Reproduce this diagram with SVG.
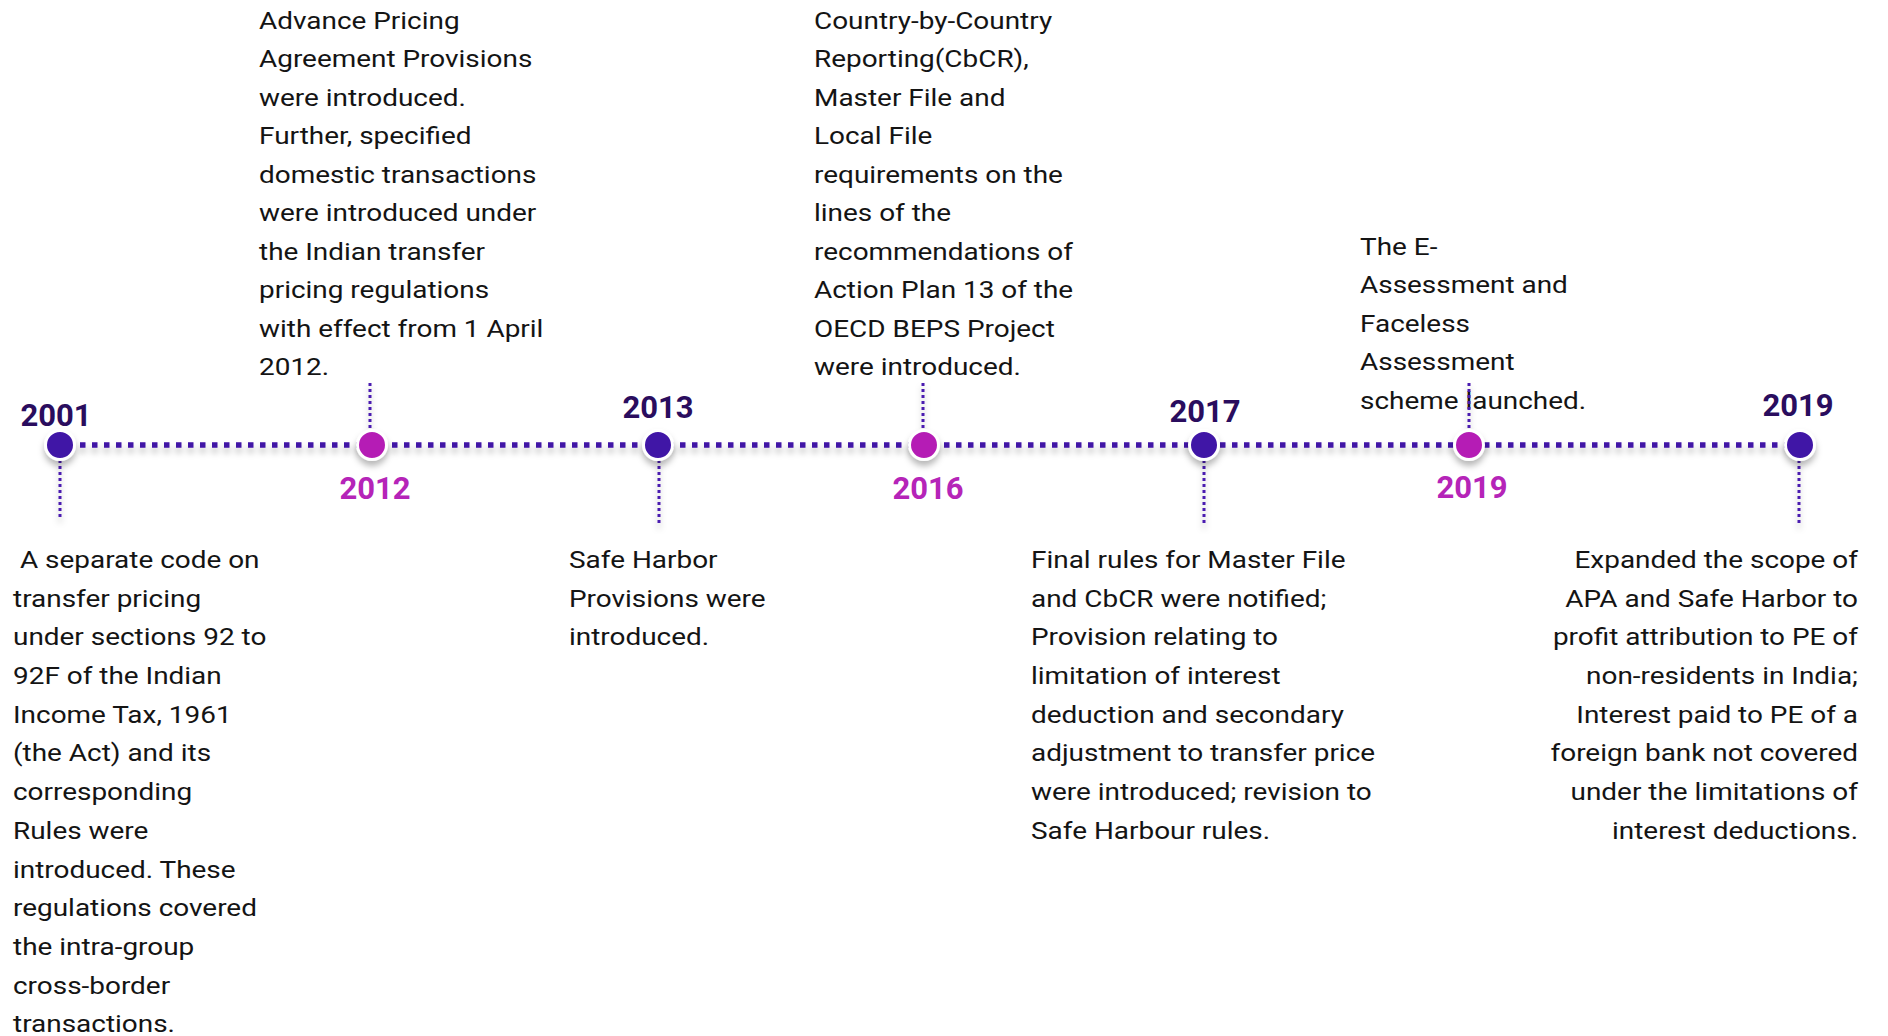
<svg xmlns="http://www.w3.org/2000/svg" width="1888" height="1036" viewBox="0 0 1888 1036">
<style>
.body{font-family:Roboto,"Liberation Sans",sans-serif;font-size:24.5px;fill:#141414;white-space:pre}
.yrTop{font-family:Roboto,"Liberation Sans",sans-serif;font-size:31px;font-weight:700;fill:#2a0d5e;text-anchor:middle}
.yrBot{font-family:Roboto,"Liberation Sans",sans-serif;font-size:31px;font-weight:700;fill:#b524b8;text-anchor:middle}
.dotA{fill:#4114a6;stroke:#ffffff;stroke-width:3}
.dotB{fill:#b51fb5;stroke:#ffffff;stroke-width:3}
.stem{stroke:#4a1cb0;stroke-width:3;stroke-dasharray:3 3;fill:none}
.axis{stroke:#4116a6;stroke-width:5.5;stroke-dasharray:5.5 6.5;fill:none}
.right{text-anchor:end}
</style>
<defs>
<filter id="sh" filterUnits="userSpaceOnUse" x="0" y="0" width="1888" height="1036">
<feDropShadow dx="0" dy="5" stdDeviation="3" flood-color="#000" flood-opacity="0.28"/>
</filter>
</defs>
<rect width="1888" height="1036" fill="#ffffff"/>
<g id="connectors" filter="url(#sh)">
<line class="axis" x1="80" y1="445" x2="1790" y2="445"/>
</g>
<g id="node-2001">
<line class="stem" x1="60" y1="460" x2="60" y2="518" filter="url(#sh)"/>
<circle class="dotA" cx="60" cy="445" r="14.5" filter="url(#sh)"/>
<text class="yrTop" x="56" y="426">2001</text>
<g transform="translate(13 0) scale(1.14 1)">
<text class="body" x="0" y="568"> A separate code on</text>
<text class="body" x="0" y="606.7">transfer pricing</text>
<text class="body" x="0" y="645.4">under sections 92 to</text>
<text class="body" x="0" y="684.1">92F of the Indian</text>
<text class="body" x="0" y="722.8">Income Tax, 1961</text>
<text class="body" x="0" y="761.5">(the Act) and its</text>
<text class="body" x="0" y="800.2">corresponding</text>
<text class="body" x="0" y="838.9">Rules were</text>
<text class="body" x="0" y="877.6">introduced. These</text>
<text class="body" x="0" y="916.3">regulations covered</text>
<text class="body" x="0" y="955">the intra-group</text>
<text class="body" x="0" y="993.7">cross-border</text>
<text class="body" x="0" y="1032.4">transactions.</text>
</g>
</g>
<g id="node-2012">
<line class="stem" x1="370" y1="383" x2="370" y2="432" filter="url(#sh)"/>
<circle class="dotB" cx="372" cy="445" r="14.5" filter="url(#sh)"/>
<text class="yrBot" x="375" y="499">2012</text>
<g transform="translate(259 0) scale(1.14 1)">
<text class="body" x="0" y="29">Advance Pricing</text>
<text class="body" x="0" y="67.5">Agreement Provisions</text>
<text class="body" x="0" y="106">were introduced.</text>
<text class="body" x="0" y="144.5">Further, specified</text>
<text class="body" x="0" y="183">domestic transactions</text>
<text class="body" x="0" y="221.5">were introduced under</text>
<text class="body" x="0" y="260">the Indian transfer</text>
<text class="body" x="0" y="298.5">pricing regulations</text>
<text class="body" x="0" y="337">with effect from 1 April</text>
<text class="body" x="0" y="375.5">2012.</text>
</g>
</g>
<g id="node-2013">
<line class="stem" x1="659" y1="460" x2="659" y2="525" filter="url(#sh)"/>
<circle class="dotA" cx="658" cy="445" r="14.5" filter="url(#sh)"/>
<text class="yrTop" x="658" y="418">2013</text>
<g transform="translate(569 0) scale(1.14 1)">
<text class="body" x="0" y="568">Safe Harbor</text>
<text class="body" x="0" y="606.7">Provisions were</text>
<text class="body" x="0" y="645.4">introduced.</text>
</g>
</g>
<g id="node-2016">
<line class="stem" x1="923" y1="383" x2="923" y2="432" filter="url(#sh)"/>
<circle class="dotB" cx="924" cy="445" r="14.5" filter="url(#sh)"/>
<text class="yrBot" x="928" y="499">2016</text>
<g transform="translate(814 0) scale(1.14 1)">
<text class="body" x="0" y="29">Country-by-Country</text>
<text class="body" x="0" y="67.5">Reporting(CbCR),</text>
<text class="body" x="0" y="106">Master File and</text>
<text class="body" x="0" y="144.5">Local File</text>
<text class="body" x="0" y="183">requirements on the</text>
<text class="body" x="0" y="221.5">lines of the</text>
<text class="body" x="0" y="260">recommendations of</text>
<text class="body" x="0" y="298.5">Action Plan 13 of the</text>
<text class="body" x="0" y="337">OECD BEPS Project</text>
<text class="body" x="0" y="375.5">were introduced.</text>
</g>
</g>
<g id="node-2017">
<line class="stem" x1="1204" y1="460" x2="1204" y2="526" filter="url(#sh)"/>
<circle class="dotA" cx="1204" cy="445" r="14.5" filter="url(#sh)"/>
<text class="yrTop" x="1205" y="422">2017</text>
<g transform="translate(1031 0) scale(1.14 1)">
<text class="body" x="0" y="568">Final rules for Master File</text>
<text class="body" x="0" y="606.7">and CbCR were notified;</text>
<text class="body" x="0" y="645.4">Provision relating to</text>
<text class="body" x="0" y="684.1">limitation of interest</text>
<text class="body" x="0" y="722.8">deduction and secondary</text>
<text class="body" x="0" y="761.5">adjustment to transfer price</text>
<text class="body" x="0" y="800.2">were introduced; revision to</text>
<text class="body" x="0" y="838.9">Safe Harbour rules.</text>
</g>
</g>
<g id="node-2019a">
<g transform="translate(1360 0) scale(1.14 1)">
<text class="body" x="0" y="255">The E-</text>
<text class="body" x="0" y="293.5">Assessment and</text>
<text class="body" x="0" y="332">Faceless</text>
<text class="body" x="0" y="370.5">Assessment</text>
<text class="body" x="0" y="409">scheme launched.</text>
</g>
<line class="stem" x1="1469" y1="383" x2="1469" y2="432" filter="url(#sh)"/>
<circle class="dotB" cx="1469" cy="445" r="14.5" filter="url(#sh)"/>
<text class="yrBot" x="1472" y="498">2019</text>
</g>
<g id="node-2019b">
<line class="stem" x1="1799" y1="460" x2="1799" y2="526" filter="url(#sh)"/>
<circle class="dotA" cx="1800" cy="445" r="14.5" filter="url(#sh)"/>
<text class="yrTop" x="1798" y="416">2019</text>
<g transform="translate(1858 0) scale(1.14 1)">
<text class="body right" x="0" y="568">Expanded the scope of</text>
<text class="body right" x="0" y="606.7">APA and Safe Harbor to</text>
<text class="body right" x="0" y="645.4">profit attribution to PE of</text>
<text class="body right" x="0" y="684.1">non-residents in India;</text>
<text class="body right" x="0" y="722.8">Interest paid to PE of a</text>
<text class="body right" x="0" y="761.5">foreign bank not covered</text>
<text class="body right" x="0" y="800.2">under the limitations of</text>
<text class="body right" x="0" y="838.9">interest deductions.</text>
</g>
</g>
</svg>
